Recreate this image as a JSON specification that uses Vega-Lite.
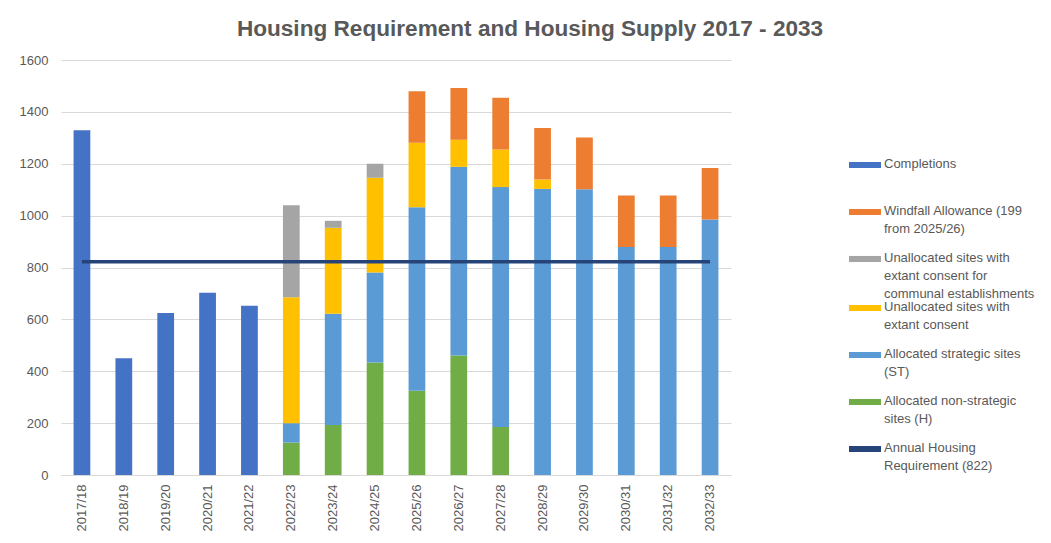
{
  "$schema": "https://vega.github.io/schema/vega-lite/v6.json",
  "width": 670,
  "height": 415,
  "autosize": {"type": "none"},
  "padding": {"left": 61, "top": 60, "right": 320, "bottom": 68},
  "background": "white",
  "title": {
    "text": "Housing Requirement and Housing Supply 2017 - 2033",
    "font": "Liberation Sans",
    "fontSize": 22.6,
    "fontWeight": "bold",
    "color": "#595959",
    "anchor": "middle",
    "frame": "bounds",
    "offset": 13,
    "dx": 3
  },
  "config": {
    "view": {"stroke": null},
    "font": "Liberation Sans"
  },
  "datasets": {
    "supply": [
      {"year": "2017/18", "series": "Completions", "value": 1329},
      {"year": "2018/19", "series": "Completions", "value": 450},
      {"year": "2019/20", "series": "Completions", "value": 625},
      {"year": "2020/21", "series": "Completions", "value": 703},
      {"year": "2021/22", "series": "Completions", "value": 653},
      {"year": "2022/23", "series": "Allocated non-strategic sites (H)", "value": 125},
      {"year": "2022/23", "series": "Allocated strategic sites (ST)", "value": 75},
      {"year": "2022/23", "series": "Unallocated sites with extant consent", "value": 485},
      {"year": "2022/23", "series": "Unallocated sites with extant consent for communal establishments", "value": 355},
      {"year": "2023/24", "series": "Allocated non-strategic sites (H)", "value": 193},
      {"year": "2023/24", "series": "Allocated strategic sites (ST)", "value": 429},
      {"year": "2023/24", "series": "Unallocated sites with extant consent", "value": 331},
      {"year": "2023/24", "series": "Unallocated sites with extant consent for communal establishments", "value": 27},
      {"year": "2024/25", "series": "Allocated non-strategic sites (H)", "value": 434},
      {"year": "2024/25", "series": "Allocated strategic sites (ST)", "value": 347},
      {"year": "2024/25", "series": "Unallocated sites with extant consent", "value": 365},
      {"year": "2024/25", "series": "Unallocated sites with extant consent for communal establishments", "value": 54},
      {"year": "2025/26", "series": "Allocated non-strategic sites (H)", "value": 325},
      {"year": "2025/26", "series": "Allocated strategic sites (ST)", "value": 707},
      {"year": "2025/26", "series": "Unallocated sites with extant consent", "value": 249},
      {"year": "2025/26", "series": "Windfall Allowance (199 from 2025/26)", "value": 199},
      {"year": "2026/27", "series": "Allocated non-strategic sites (H)", "value": 461},
      {"year": "2026/27", "series": "Allocated strategic sites (ST)", "value": 727},
      {"year": "2026/27", "series": "Unallocated sites with extant consent", "value": 105},
      {"year": "2026/27", "series": "Windfall Allowance (199 from 2025/26)", "value": 199},
      {"year": "2027/28", "series": "Allocated non-strategic sites (H)", "value": 185},
      {"year": "2027/28", "series": "Allocated strategic sites (ST)", "value": 925},
      {"year": "2027/28", "series": "Unallocated sites with extant consent", "value": 145},
      {"year": "2027/28", "series": "Windfall Allowance (199 from 2025/26)", "value": 199},
      {"year": "2028/29", "series": "Allocated strategic sites (ST)", "value": 1103},
      {"year": "2028/29", "series": "Unallocated sites with extant consent", "value": 36},
      {"year": "2028/29", "series": "Windfall Allowance (199 from 2025/26)", "value": 199},
      {"year": "2029/30", "series": "Allocated strategic sites (ST)", "value": 1102},
      {"year": "2029/30", "series": "Windfall Allowance (199 from 2025/26)", "value": 199},
      {"year": "2030/31", "series": "Allocated strategic sites (ST)", "value": 879},
      {"year": "2030/31", "series": "Windfall Allowance (199 from 2025/26)", "value": 199},
      {"year": "2031/32", "series": "Allocated strategic sites (ST)", "value": 879},
      {"year": "2031/32", "series": "Windfall Allowance (199 from 2025/26)", "value": 199},
      {"year": "2032/33", "series": "Allocated strategic sites (ST)", "value": 985},
      {"year": "2032/33", "series": "Windfall Allowance (199 from 2025/26)", "value": 199}
    ],
    "requirement": [
      {"year": "2017/18", "value": 822},
      {"year": "2032/33", "value": 822}
    ]
  },
  "layer": [
    {
      "data": {"name": "supply"},
      "transform": [
        {"calculate": "indexof(['Completions','Windfall Allowance (199 from 2025/26)','Unallocated sites with extant consent for communal establishments','Unallocated sites with extant consent','Allocated strategic sites (ST)','Allocated non-strategic sites (H)'], datum.series)", "as": "ord"}
      ],
      "mark": {"type": "bar"},
      "encoding": {
        "x": {
          "field": "year",
          "type": "ordinal",
          "title": null,
          "scale": {
            "domain": ["2017/18","2018/19","2019/20","2020/21","2021/22","2022/23","2023/24","2024/25","2025/26","2026/27","2027/28","2028/29","2029/30","2030/31","2031/32","2032/33"],
            "paddingInner": 0.6,
            "paddingOuter": 0.3
          },
          "axis": {
            "labelAngle": -90,
            "labelAlign": "right",
            "labelBaseline": "middle",
            "labelFontSize": 13,
            "labelColor": "#595959",
            "labelPadding": 9,
            "ticks": false,
            "domainColor": "#d9d9d9",
            "domainWidth": 1
          }
        },
        "y": {
          "field": "value",
          "type": "quantitative",
          "stack": "zero",
          "title": null,
          "scale": {"domain": [0, 1600], "nice": false},
          "axis": {
            "values": [0, 200, 400, 600, 800, 1000, 1200, 1400, 1600],
            "format": "d",
            "labelFontSize": 13,
            "labelColor": "#595959",
            "labelPadding": 13,
            "ticks": false,
            "domain": false,
            "gridColor": "#d9d9d9",
            "gridWidth": 1
          }
        },
        "color": {
          "field": "series",
          "type": "nominal",
          "scale": {
            "domain": ["Completions","Windfall Allowance (199 from 2025/26)","Unallocated sites with extant consent for communal establishments","Unallocated sites with extant consent","Allocated strategic sites (ST)","Allocated non-strategic sites (H)","Annual Housing Requirement (822)"],
            "range": ["#4472C4","#ED7D31","#A5A5A5","#FFC000","#5B9BD5","#70AD47","#264478"]
          },
          "legend": {
            "title": null,
            "orient": "none",
            "legendX": 788,
            "legendY": 98,
            "symbolType": "M-1,-0.19H1V0.19H-1Z",
            "symbolSize": 1024,
            "symbolStrokeWidth": 0,
            "labelFont": "Liberation Sans",
            "labelFontSize": 13,
            "labelColor": "#595959",
            "labelLimit": 400,
            "labelOffset": 3,
            "labelBaseline": "top",
            "clipHeight": 47,
            "rowPadding": 0,
            "labelExpr": "datum.label == 'Windfall Allowance (199 from 2025/26)' ? ['Windfall Allowance (199', 'from 2025/26)'] : datum.label == 'Unallocated sites with extant consent for communal establishments' ? ['Unallocated sites with', 'extant consent for', 'communal establishments'] : datum.label == 'Unallocated sites with extant consent' ? ['Unallocated sites with', 'extant consent'] : datum.label == 'Allocated strategic sites (ST)' ? ['Allocated strategic sites', '(ST)'] : datum.label == 'Allocated non-strategic sites (H)' ? ['Allocated non-strategic', 'sites (H)'] : datum.label == 'Annual Housing Requirement (822)' ? ['Annual Housing', 'Requirement (822)'] : datum.label",
            "encode": {
              "symbols": {"update": {"y": {"value": 7}}},
              "labels": {"update": {"y": {"value": 0}, "lineHeight": {"value": 18}}}
            }
          }
        },
        "order": {"field": "ord", "type": "quantitative", "sort": "descending"}
      }
    },
    {
      "data": {"name": "requirement"},
      "mark": {"type": "line", "strokeWidth": 3.5},
      "encoding": {
        "x": {"field": "year", "type": "ordinal"},
        "y": {"field": "value", "type": "quantitative"},
        "color": {"datum": "Annual Housing Requirement (822)"}
      }
    }
  ]
}
